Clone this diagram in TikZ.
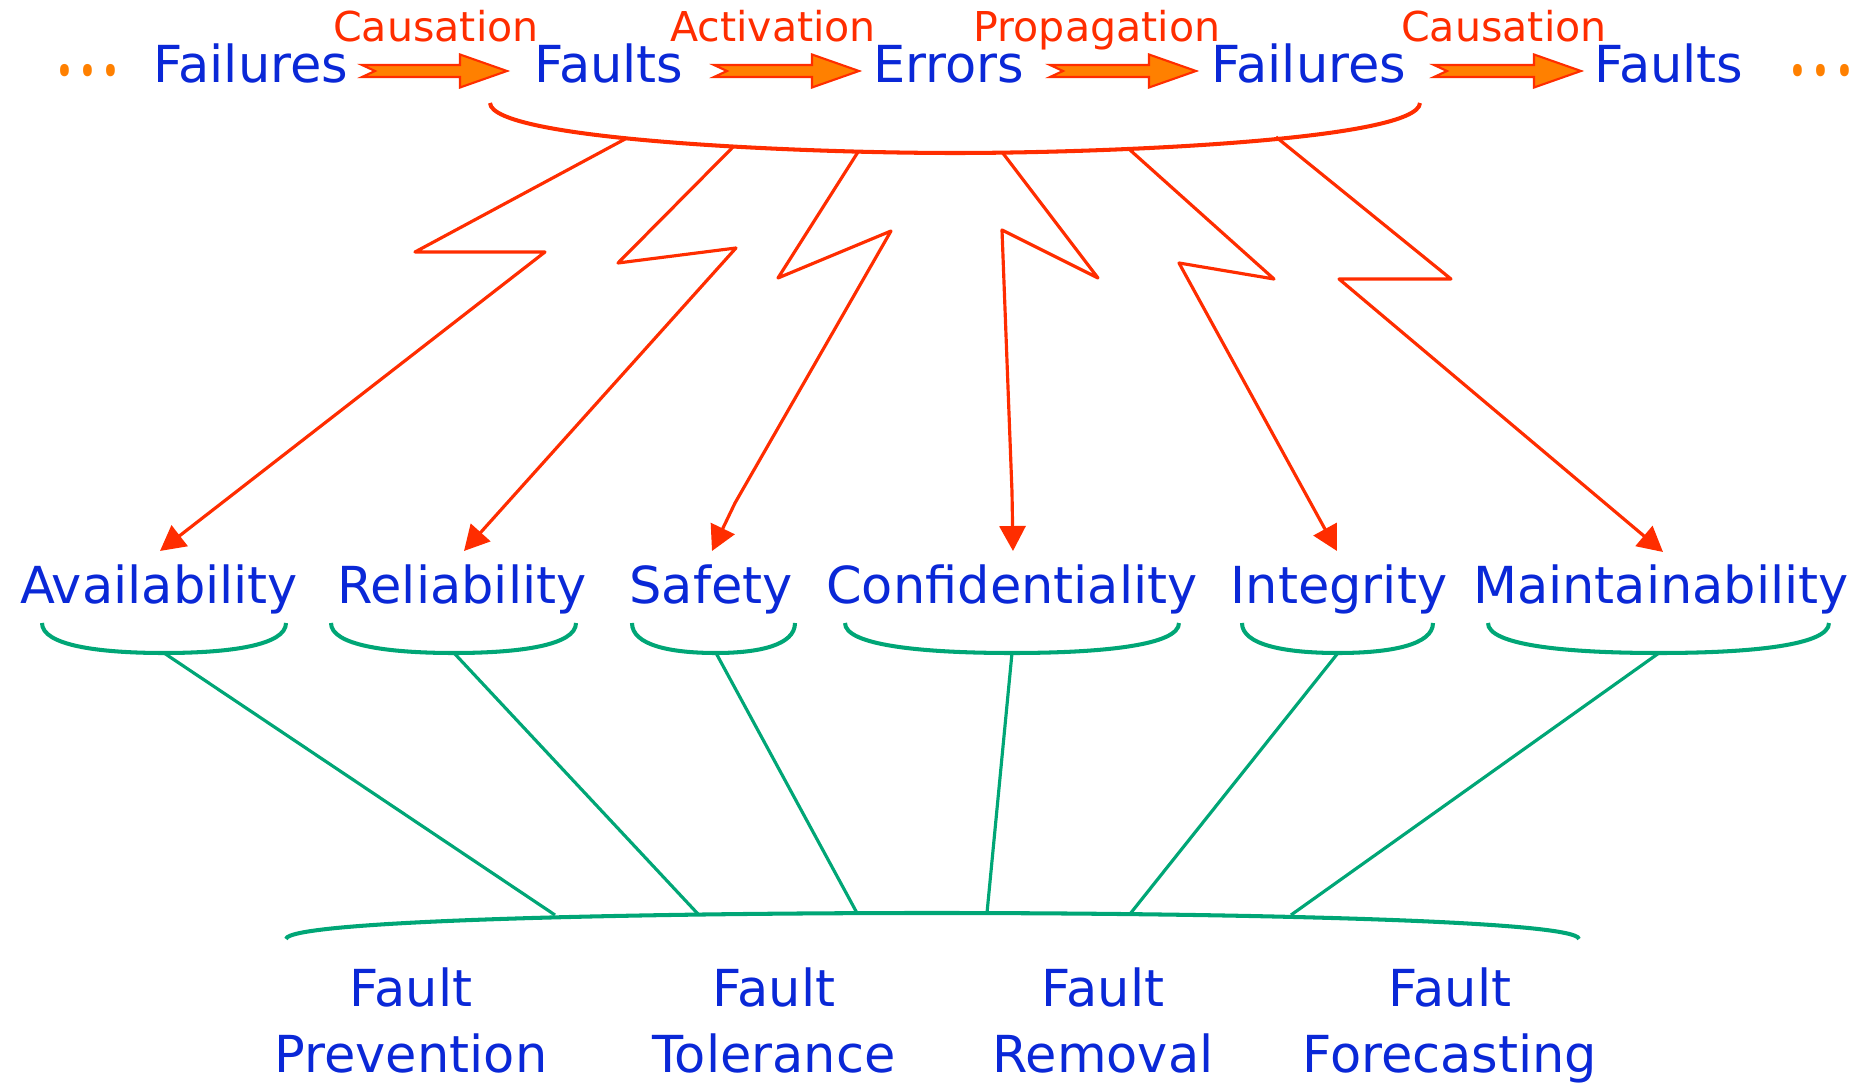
\documentclass[tikz,border=0pt]{standalone}
\usepackage{fontspec}
\usepackage{graphicx}
\setmainfont{DejaVu Sans}
\newfontfamily\dotfont{Noto Sans}
\usetikzlibrary{calc,arrows.meta}
\definecolor{tblue}{RGB}{10,40,215}
\definecolor{tred}{RGB}{255,45,0}
\definecolor{torange}{RGB}{255,128,0}
\definecolor{tgreen}{RGB}{0,166,118}
\newcommand\fatarrow[2]{\draw[fat] ($(#1)+(0,-6)$) -- ($(#2)+(-47,-6)$) -- ($(#2)+(-47,-16.5)$) -- (#2) -- ($(#2)+(-47,16.5)$) -- ($(#2)+(-47,6)$) -- ($(#1)+(0,6)$) -- ($(#1)+(13,0)$) -- cycle;}
\newcommand\gbr[3]{\draw[gbrace] (#1,623) .. controls (#1,645) and ({#3-0.55*(#3-#1)},653) .. (#3,653) .. controls ({#3+0.55*(#2-#3)},653) and (#2,645) .. (#2,623);}
\newcommand\mydots{\scalebox{1}[1.3]{.\kern1.3pt.\kern1.3pt.}}
\begin{document}
\begin{tikzpicture}[x=0.01cm,y=-0.01cm,
  word/.style={inner sep=0pt,anchor=base,text=tblue,font=\fontsize{14.5}{18.5}\selectfont},
  lab/.style={inner sep=0pt,anchor=base,text=tred,font=\fontsize{11.7}{14}\selectfont},
  dots/.style={inner sep=0pt,anchor=base,text=torange,font=\dotfont\fontsize{20}{22}\selectfont},
  fat/.style={fill=torange,draw=tred,line width=0.6pt,line join=miter},
  bolt/.style={draw=tred,line width=0.9pt,line join=round,-{Triangle[length=7.1pt,width=7.4pt]}},
  rbrace/.style={draw=tred,line width=1.15pt},
  gbrace/.style={draw=tgreen,line width=1.15pt},
  glink/.style={draw=tgreen,line width=0.9pt}]
\useasboundingbox (0,0) rectangle (1871,1085);

% top row
\node[dots] (d1) at (88,76) {\mydots};
\node[word] (f1) at (251,83) {Failures};
\node[word] (fa1) at (609,83) {Faults};
\node[word] (er) at (949,83) {Errors};
\node[word] (f2) at (1309,83) {Failures};
\node[word] (fa2) at (1669,83) {Faults};
\node[dots] (d2) at (1821,76) {\mydots};

\node[lab] (l1) at (436,42) {Causation};
\node[lab] (l2) at (773,42) {Activation};
\node[lab] (l3) at (1097,42) {Propagation};
\node[lab] (l4) at (1504,42) {Causation};

\coordinate (a1s) at (362,71); \coordinate (a1e) at (507,71);
\coordinate (a2s) at (714,71); \coordinate (a2e) at (859,71);
\coordinate (a3s) at (1050,71); \coordinate (a3e) at (1196,71);
\coordinate (a4s) at (1434,71); \coordinate (a4e) at (1581,71);
\fatarrow{a1s}{a1e}
\fatarrow{a2s}{a2e}
\fatarrow{a3s}{a3e}
\fatarrow{a4s}{a4e}

% red brace
\draw[rbrace] (490,103) .. controls (492,140) and (800,153) .. (955,153) .. controls (1110,153) and (1418,140) .. (1420,103);

% middle row
\node[word] (av) at (159,604) {Availability};
\node[word] (re) at (462,604) {Reliability};
\node[word] (sa) at (711,604) {Safety};
\node[word] (co) at (1012,604) {Confidentiality};
\node[word] (in) at (1339,604) {Integrity};
\node[word] (ma) at (1661,604) {Maintainability};

% bolts
\coordinate (b1) at (627,138); \coordinate (t1) at (160,551);
\coordinate (b2) at (733,147); \coordinate (t2) at (464,551);
\coordinate (b3) at (858,152); \coordinate (t3) at (712,551);
\coordinate (b4) at (1002,152); \coordinate (t4) at (1013,551);
\coordinate (b5) at (1130,150); \coordinate (t5) at (1337,551);
\coordinate (b6) at (1276,137); \coordinate (t6) at (1663,552);
\draw[bolt] (b1) -- (415,252) -- (545,252) -- (t1);
\draw[bolt] (b2) -- (618,263) -- (736,248) -- (t2);
\draw[bolt] (b3) -- (778,278) -- (891,231) -- (735,503) -- (t3);
\draw[bolt] (b4) -- (1098,278) -- (1002,230) -- (1012,492) -- (t4);
\draw[bolt] (b5) -- (1274,279) -- (1179,263) -- (t5);
\draw[bolt] (b6) -- (1451,279) -- (1339,279) -- (t6);

% green braces
\gbr{42}{286}{164}
\gbr{331}{576}{454}
\gbr{632}{795}{716}
\gbr{845}{1179}{1012}
\gbr{1242}{1433}{1338}
\gbr{1488}{1829}{1659}
\coordinate (g1) at (164,653);
\coordinate (g2) at (454,653);
\coordinate (g3) at (716,653);
\coordinate (g4) at (1012,653);
\coordinate (g5) at (1338,653);
\coordinate (g6) at (1659,653);

% bottom brace
\draw[gbrace] (286,939) .. controls (288,920) and (650,913) .. (932,913) .. controls (1214,913) and (1577,920) .. (1579,939);
\coordinate (h1) at (555,915);
\coordinate (h2) at (698,914);
\coordinate (h3) at (857,913);
\coordinate (h4) at (987,913);
\coordinate (h5) at (1130,914);
\coordinate (h6) at (1291,915);
\draw[glink] (g1) -- (h1);
\draw[glink] (g2) -- (h2);
\draw[glink] (g3) -- (h3);
\draw[glink] (g4) -- (h4);
\draw[glink] (g5) -- (h5);
\draw[glink] (g6) -- (h6);

% bottom row
\node[word] (fp) at (411,1007) {\begin{tabular}[t]{@{}c@{}}Fault\\Prevention\end{tabular}};
\node[word] (ft) at (774,1007) {\begin{tabular}[t]{@{}c@{}}Fault\\Tolerance\end{tabular}};
\node[word] (fr) at (1103,1007) {\begin{tabular}[t]{@{}c@{}}Fault\\Removal\end{tabular}};
\node[word] (ff) at (1450,1007) {\begin{tabular}[t]{@{}c@{}}Fault\\Forecasting\end{tabular}};
\end{tikzpicture}
\end{document}
